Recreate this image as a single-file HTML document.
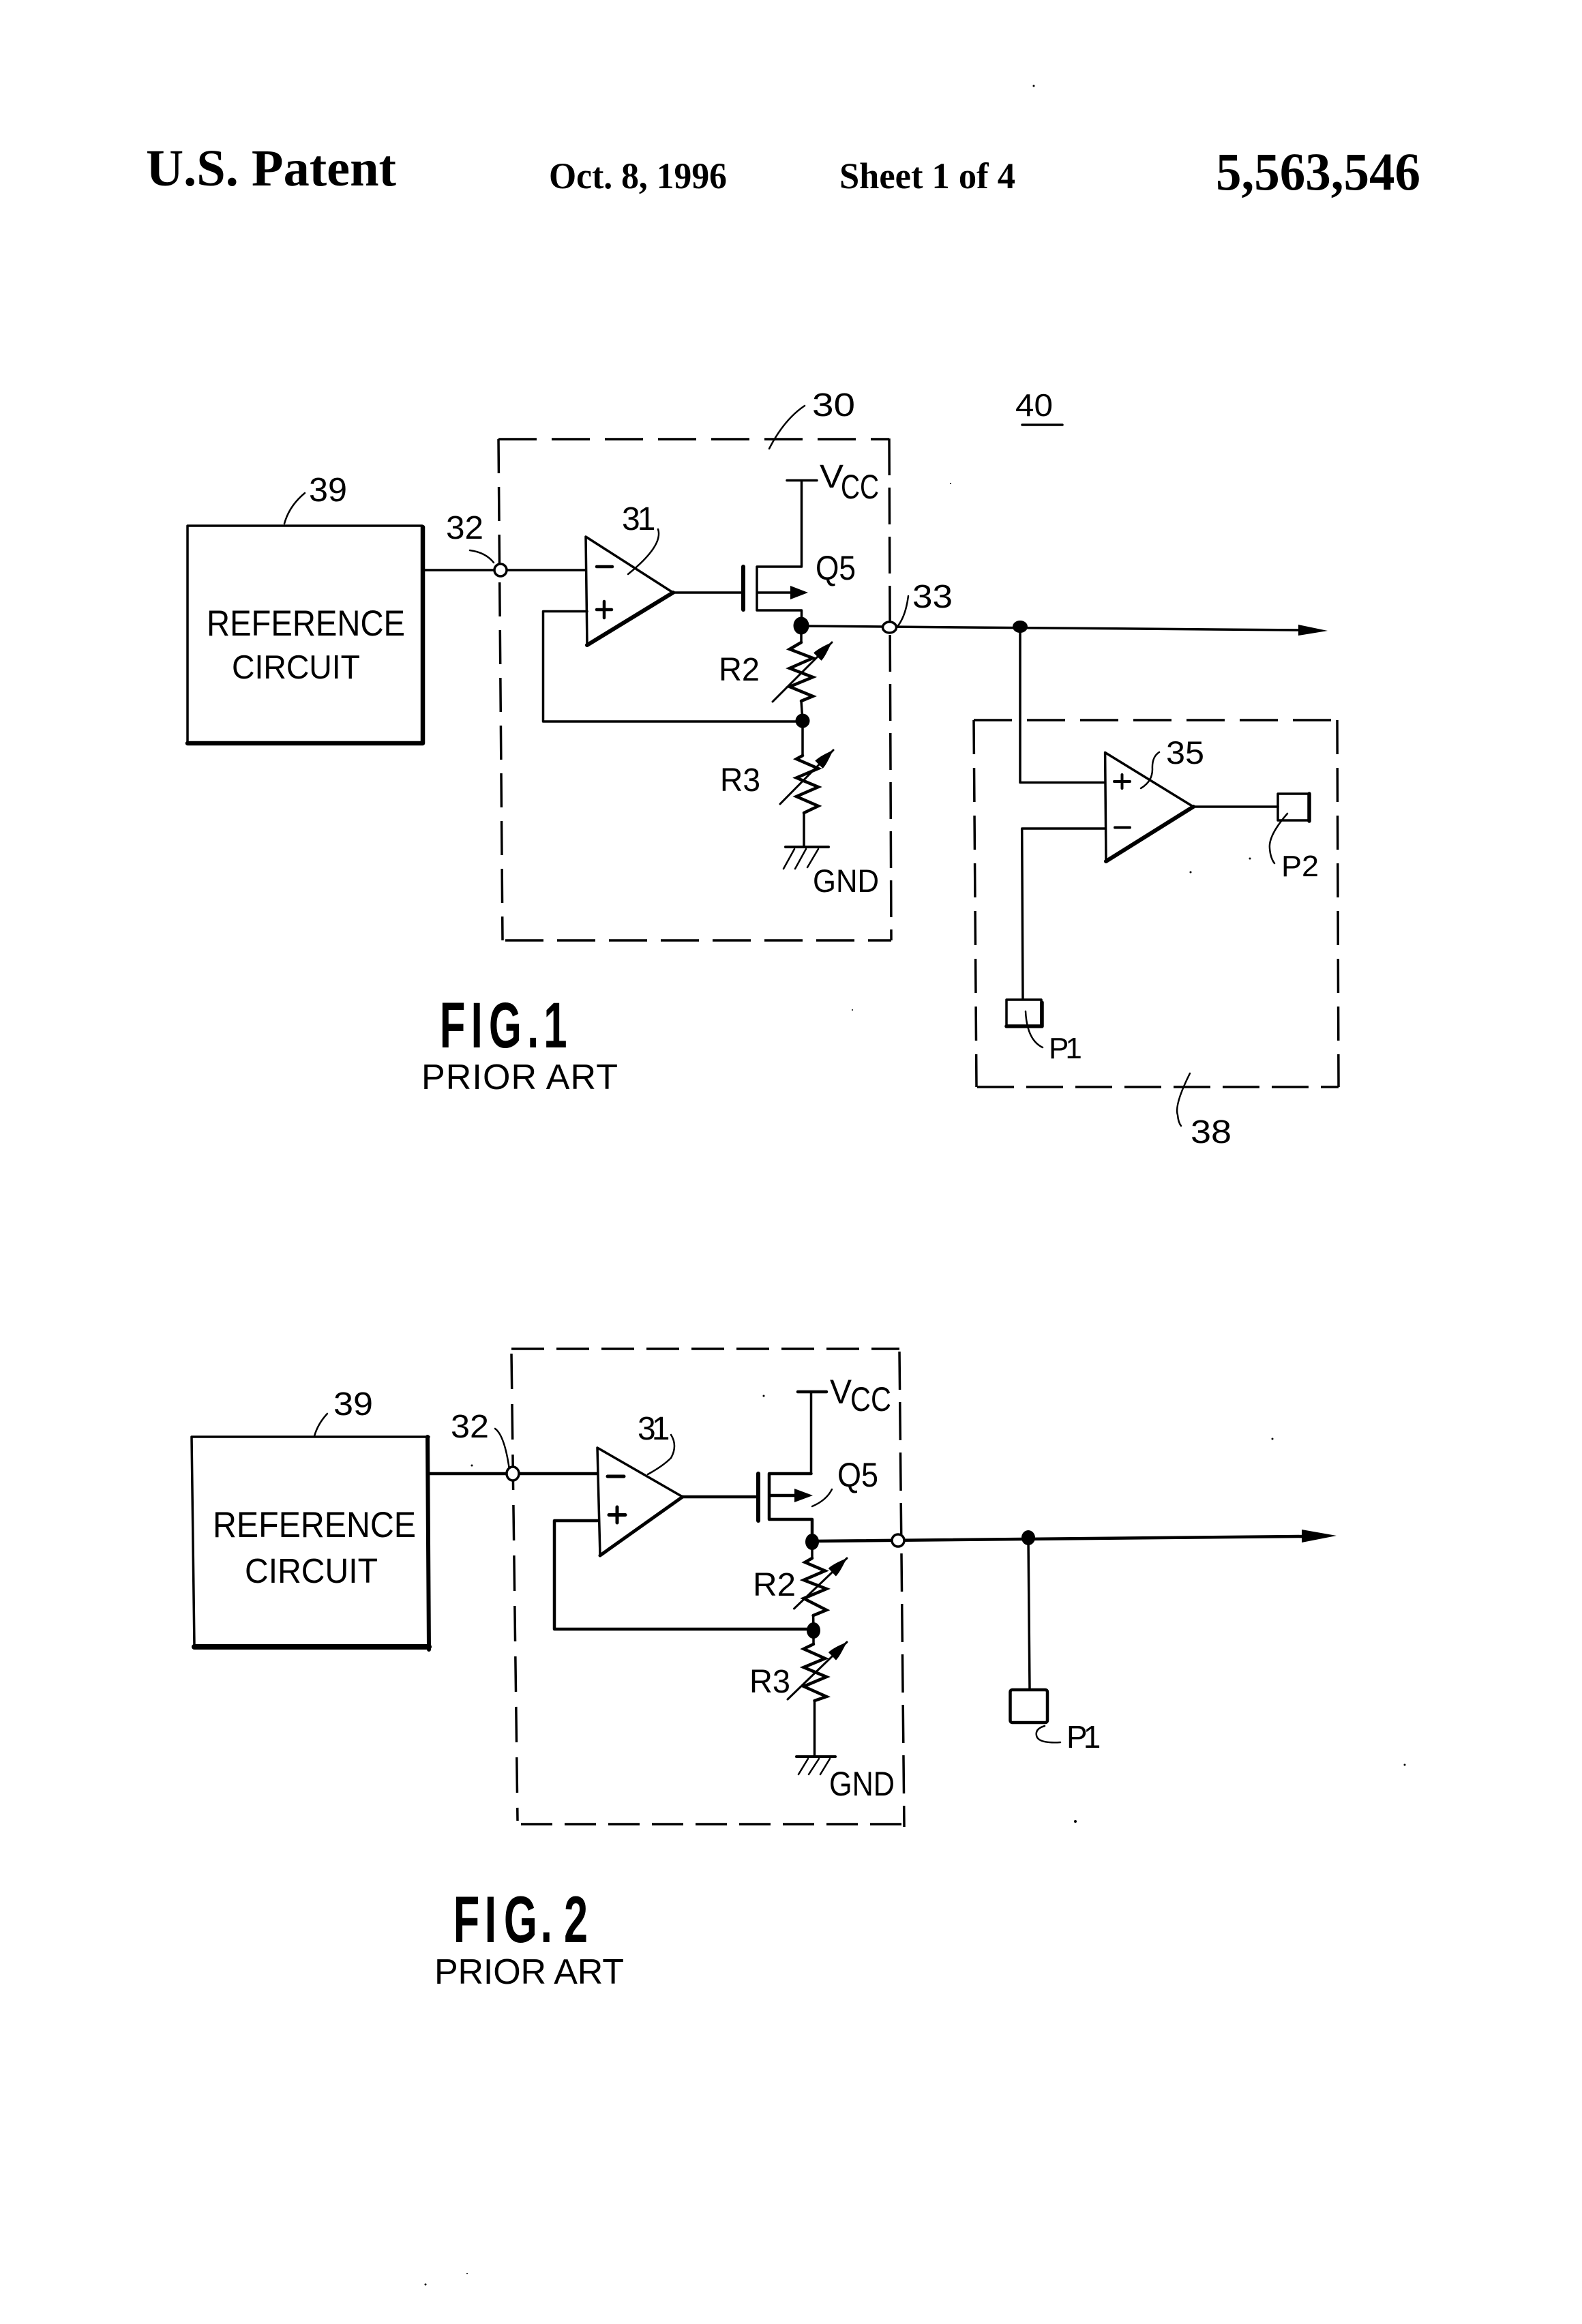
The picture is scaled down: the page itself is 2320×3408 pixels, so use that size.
<!DOCTYPE html>
<html><head><meta charset="utf-8"><title>U.S. Patent 5,563,546 Sheet 1 of 4</title>
<style>
html,body{margin:0;padding:0;background:#fff}
svg{display:block}
.l{fill:none;stroke:#000;stroke-width:3.5;stroke-linejoin:round;stroke-linecap:round}
.z{fill:none;stroke:#000;stroke-width:4.5;stroke-linejoin:miter;stroke-linecap:round}
.d{fill:none;stroke:#000;stroke-width:3.5}
.b{fill:#000;stroke:none}
text{font-family:"Liberation Sans",sans-serif;fill:#000}
.s{font-family:"Liberation Serif",serif;font-weight:bold}
.f{font-weight:bold}
</style></head><body>
<svg xmlns="http://www.w3.org/2000/svg" width="2320" height="3408" viewBox="0 0 2320 3408">
<defs>
<marker id="a" markerUnits="userSpaceOnUse" markerWidth="32" markerHeight="18" refX="30" refY="9" orient="auto"><path d="M0,1 C8,1 20,5 30,9 C20,12 8,17 0,17z" fill="#000"/></marker>
</defs>
<rect width="2320" height="3408" fill="#fff"/>

<!-- Header -->
<text class="s" x="214" y="272" font-size="76" textLength="367" lengthAdjust="spacingAndGlyphs">U.S. Patent</text>
<text class="s" x="805" y="276" font-size="54" textLength="261" lengthAdjust="spacingAndGlyphs">Oct. 8, 1996</text>
<text class="s" x="1231" y="276" font-size="54" textLength="258" lengthAdjust="spacingAndGlyphs">Sheet 1 of 4</text>
<text class="s" x="1783" y="278" font-size="78" textLength="300" lengthAdjust="spacingAndGlyphs">5,563,546</text>

<!-- FIG 1 dashed box 30 -->
<g class="d">
<path d="M731,644 H1304" stroke-dasharray="56 22"/>
<path d="M731,644 L737,1379" stroke-dasharray="50 20"/>
<path d="M1304,643 L1307,1379" stroke-dasharray="54 18"/>
<path d="M741,1379 H1307" stroke-dasharray="56 20"/>
</g>
<!-- Reference circuit 1 -->
<path class="l" d="M275,771 H619 M275,771 V1089"/>
<path class="l" style="stroke-width:6.5" d="M275,1090 H620 V773"/>
<text x="303" y="932" font-size="53" textLength="291" lengthAdjust="spacingAndGlyphs">REFERENCE</text>
<text x="340" y="995" font-size="49" textLength="188" lengthAdjust="spacingAndGlyphs">CIRCUIT</text>
<path class="l" style="stroke-width:2.5" d="M417,768 Q424,742 447,723"/>
<text x="453" y="735" font-size="49" textLength="56" lengthAdjust="spacingAndGlyphs">39</text>
<text x="654" y="790" font-size="48" textLength="55" lengthAdjust="spacingAndGlyphs">32</text>
<path class="l" style="stroke-width:2.5" d="M689,807 Q712,810 724,825"/>
<path class="l" d="M619,836 H859"/>
<circle cx="734" cy="836" r="9" fill="#fff" stroke="#000" stroke-width="3.5"/>
<!-- op amp 31 -->
<path class="l" d="M861,946 L859,787 L987,869"/>
<path class="l" style="stroke-width:6" d="M987,869 L861,946"/>
<path class="l" style="stroke-width:4.5" d="M875,831 H898 M875,894 H897 M886,882 V906"/>
<path class="l" d="M861,896.5 H796.5 V1058 H1177"/>
<text x="912" y="777" font-size="48">3<tspan dx="-4">1</tspan></text>
<path class="l" style="stroke-width:2.5" d="M965,776 Q973,800 921,842"/>
<!-- transistor -->
<path class="l" d="M987,869 H1089"/>
<path class="l" style="stroke-width:6" d="M1090,831 V894"/>
<path class="l" d="M1110,831 V895 M1110,831 H1175.5 V705 M1154,704.5 H1198 M1110,895 H1175.5 V918 M1110,869 H1165"/>
<polygon class="b" points="1159,859 1185,869 1159,879"/>
<text x="1202" y="715" font-size="48" textLength="35" lengthAdjust="spacingAndGlyphs">V</text>
<text x="1233" y="731" font-size="50" textLength="56" lengthAdjust="spacingAndGlyphs">CC</text>
<text x="1196" y="850" font-size="50" textLength="59" lengthAdjust="spacingAndGlyphs">Q5</text>
<text x="1191" y="610" font-size="48" textLength="63" lengthAdjust="spacingAndGlyphs">30</text>
<path class="l" style="stroke-width:2.5" d="M1128,658 Q1150,615 1180,595"/>
<text x="1489" y="610" font-size="46" textLength="55" lengthAdjust="spacingAndGlyphs">40</text>
<path class="l" d="M1499,623 H1558"/>
<!-- output -->
<path class="l" d="M1175,918 L1906,924"/>
<polygon class="b" points="1904,916 1947,925 1904,932"/>
<ellipse class="b" cx="1175" cy="917.5" rx="11.5" ry="13"/>
<ellipse class="b" cx="1496" cy="919" rx="11" ry="9"/>
<ellipse cx="1304.5" cy="920" rx="10" ry="8" fill="#fff" stroke="#000" stroke-width="3.5"/>
<text x="1338" y="891" font-size="48" textLength="59" lengthAdjust="spacingAndGlyphs">33</text>
<path class="l" style="stroke-width:2.5" d="M1315,920 Q1328,905 1332,874"/>
<!-- R2 R3 -->
<path class="l" d="M1175,917 V942 M1175,1028 L1177,1058"/>
<path class="z" d="M1175,942 L1158,952 L1192,965 L1158,980 L1192,993 L1158,1007 L1192,1021 L1175,1028"/>
<path class="l" style="stroke-width:3" marker-end="url(#a)" d="M1133,1029 L1220,942"/>
<circle class="b" cx="1177" cy="1057" r="10.5"/>
<text x="1054" y="998" font-size="48" textLength="60" lengthAdjust="spacingAndGlyphs">R2</text>
<path class="l" d="M1177,1058 V1108 M1179,1192 V1242"/>
<path class="z" d="M1177,1108 L1168,1113 L1200,1127 L1168,1140.6 L1200,1154 L1168,1168 L1200,1182 L1179,1192"/>
<path class="l" style="stroke-width:3" marker-end="url(#a)" d="M1144,1179 L1222,1100"/>
<text x="1056" y="1160" font-size="48" textLength="59" lengthAdjust="spacingAndGlyphs">R3</text>
<path class="l" style="stroke-width:4" d="M1152,1242 H1215"/>
<path class="l" style="stroke-width:2.5" d="M1149,1274 L1165,1245 M1166,1274 L1182,1245 M1184,1272 L1200,1245"/>
<text x="1192" y="1308" font-size="47" textLength="97" lengthAdjust="spacingAndGlyphs">GND</text>
<!-- FIG 1 label -->
<g transform="translate(649,1536) scale(.65,1)"><text class="f" x="-6.6 64 104.5 191 228" y="0" font-size="95">FIG.1</text></g>
<text x="618" y="1597" font-size="52" textLength="288" lengthAdjust="spacing">PRIOR ART</text>

<!-- box 38 -->
<g class="d">
<path d="M1428,1056 H1961" stroke-dasharray="56 22"/>
<path d="M1428,1056 L1432,1594" stroke-dasharray="50 20"/>
<path d="M1961,1056 L1963,1594" stroke-dasharray="50 20"/>
<path d="M1433,1594 H1963" stroke-dasharray="54 18"/>
</g>
<path class="l" d="M1496,919 V1147.5 H1620"/>
<path class="l" d="M1622,1263 L1620.6,1103.5 L1750,1183"/>
<path class="l" style="stroke-width:6" d="M1750,1183 L1622,1263"/>
<path class="l" style="stroke-width:4" d="M1634,1146 H1657 M1645.5,1136 V1156 M1635,1213.5 H1657"/>
<path class="l" d="M1620,1215 H1498.7 L1500,1464"/>
<path class="l" d="M1750,1183 H1874"/>
<path class="l" d="M1874,1164 H1920 M1874,1164 V1203 H1920"/>
<path class="l" style="stroke-width:5.5" d="M1920,1164 V1204"/>
<path class="l" style="stroke-width:2.5" d="M1888,1193 Q1860,1225 1862,1244 Q1863,1258 1869,1266"/>
<text x="1879" y="1285" font-size="44" textLength="55" lengthAdjust="spacingAndGlyphs">P2</text>
<path class="l" d="M1476,1466 H1527 V1505 M1476,1466 V1504"/>
<path class="l" style="stroke-width:5.5" d="M1476,1505 H1528 V1470"/>
<path class="l" style="stroke-width:2.5" d="M1504,1483 Q1506,1525 1529,1536"/>
<text x="1538" y="1552" font-size="44">P<tspan dx="-5">1</tspan></text>
<text x="1710" y="1120" font-size="47" textLength="56" lengthAdjust="spacingAndGlyphs">35</text>
<path class="l" style="stroke-width:2.5" d="M1673,1156 Q1690,1146 1690,1128 Q1689,1110 1700,1103"/>
<path class="l" style="stroke-width:2.5" d="M1745,1574 Q1722,1620 1727,1635 Q1728,1646 1732,1651"/>
<text x="1746" y="1676" font-size="48" textLength="60" lengthAdjust="spacingAndGlyphs">38</text>

<!-- FIG 2 dashed box -->
<g class="d">
<path d="M750,1978 H1319" stroke-dasharray="48 18"/>
<path d="M750,1985 L759,2670" stroke-dasharray="52 22"/>
<path d="M1319,1982 L1326,2679" stroke-dasharray="56 18"/>
<path d="M764,2675 H1326" stroke-dasharray="46 18"/>
</g>
<!-- Reference circuit 2 -->
<path class="l" d="M281,2107 H629 M281,2107 L285,2414"/>
<path class="l" style="stroke-width:6" d="M627,2107 L629,2419"/>
<path class="l" style="stroke-width:8" d="M285,2415 H629"/>
<text x="312" y="2254" font-size="53" textLength="298" lengthAdjust="spacingAndGlyphs">REFERENCE</text>
<text x="359" y="2321" font-size="51" textLength="195" lengthAdjust="spacingAndGlyphs">CIRCUIT</text>
<path class="l" style="stroke-width:2.5" d="M461,2106 Q466,2088 480,2073"/>
<text x="489" y="2075" font-size="48" textLength="58" lengthAdjust="spacingAndGlyphs">39</text>
<text x="661" y="2108" font-size="48" textLength="56" lengthAdjust="spacingAndGlyphs">32</text>
<path class="l" style="stroke-width:2.5" d="M726,2095 Q740,2105 747,2155"/>
<path class="l" style="stroke-width:4.5" d="M629,2161 H875"/>
<ellipse cx="752" cy="2161" rx="9" ry="10" fill="#fff" stroke="#000" stroke-width="3.5"/>
<!-- op amp -->
<path class="l" d="M880,2281 L876,2123 L1001,2195"/>
<path class="l" style="stroke-width:5" d="M1001,2195 L880,2281"/>
<path class="l" style="stroke-width:5" d="M891,2165 H915 M893,2221.5 H917 M905,2210 V2233"/>
<path class="l" style="stroke-width:4.5" d="M877,2230 H813 V2389 H1193"/>
<text x="935" y="2111" font-size="48">3<tspan dx="-6">1</tspan></text>
<path class="l" style="stroke-width:2.5" d="M984,2104 Q994,2120 984,2138 Q972,2150 950,2162"/>
<path class="l" style="stroke-width:4.5" d="M1001,2195 H1110"/>
<path class="l" style="stroke-width:6" d="M1112,2161 V2230"/>
<path class="l" style="stroke-width:4.5" d="M1128,2161 V2228 M1128,2161 H1189.5 M1128,2193 H1170 M1128,2228 H1191 V2261"/>
<path class="l" d="M1189.5,2161 V2041"/>
<path class="l" style="stroke-width:4.5" d="M1170,2041 H1212"/>
<polygon class="b" points="1165,2183 1192,2193 1165,2203"/>
<text x="1217" y="2058" font-size="50" textLength="32" lengthAdjust="spacingAndGlyphs">V</text>
<text x="1247" y="2069" font-size="50" textLength="60" lengthAdjust="spacingAndGlyphs">CC</text>
<text x="1228" y="2180" font-size="50" textLength="60" lengthAdjust="spacingAndGlyphs">Q5</text>
<path class="l" style="stroke-width:2.5" d="M1191,2209 Q1212,2200 1220,2184"/>
<!-- output -->
<path class="l" style="stroke-width:4.5" d="M1191,2260 L1912,2253"/>
<polygon class="b" points="1909,2243 1960,2252 1909,2262"/>
<ellipse class="b" cx="1191" cy="2261" rx="10" ry="12"/>
<ellipse class="b" cx="1508" cy="2255" rx="10" ry="11"/>
<circle cx="1317" cy="2259" r="9" fill="#fff" stroke="#000" stroke-width="3.5"/>
<path class="l" d="M1508,2255 L1510,2477"/>
<rect x="1481.5" y="2478" width="54.5" height="48" rx="3" fill="none" stroke="#000" stroke-width="4.5"/>
<path class="l" style="stroke-width:2.5" d="M1532,2531 Q1518,2535 1520,2545 Q1522,2557 1555,2555"/>
<text x="1564" y="2563" font-size="46">P<tspan dx="-6">1</tspan></text>
<!-- R2 R3 fig2 -->
<path class="l" d="M1191,2261 V2285 M1192.6,2369 L1193,2391"/>
<path class="z" d="M1191,2285 L1180.5,2291 L1210,2303.5 L1178.6,2317 L1212,2330 L1178.6,2344 L1212,2361 L1192.6,2369"/>
<path class="l" style="stroke-width:3" marker-end="url(#a)" d="M1164.5,2359 L1242,2285"/>
<ellipse class="b" cx="1193" cy="2391" rx="10" ry="12"/>
<text x="1104" y="2340" font-size="48" textLength="63" lengthAdjust="spacingAndGlyphs">R2</text>
<path class="l" d="M1193,2391 V2411 M1194.5,2494 V2575"/>
<path class="z" d="M1193,2411 L1178.6,2418 L1210,2432 L1178.6,2445 L1212,2459 L1178.6,2473 L1212,2488 L1194.5,2494"/>
<path class="l" style="stroke-width:3" marker-end="url(#a)" d="M1155,2492 L1242,2408"/>
<text x="1099" y="2482" font-size="48" textLength="60" lengthAdjust="spacingAndGlyphs">R3</text>
<path class="l" style="stroke-width:4" d="M1168,2576 H1225"/>
<path class="l" style="stroke-width:2.5" d="M1171,2602 L1185,2579 M1186,2602 L1201,2579 M1203,2602 L1217,2579"/>
<text x="1216" y="2633" font-size="50" textLength="96" lengthAdjust="spacingAndGlyphs">GND</text>
<!-- FIG 2 label -->
<g transform="translate(669,2848) scale(.65,1)"><text class="f" x="-6.6 64 107.6 190 243" y="0" font-size="97">FIG.2</text></g>
<text x="637" y="2909" font-size="52" textLength="278" lengthAdjust="spacing">PRIOR ART</text>

<!-- specks -->
<g class="b">
<circle cx="1516" cy="126" r="1.5"/><circle cx="1120" cy="2047" r="1.5"/><circle cx="692" cy="2149" r="1.5"/>
<circle cx="1866" cy="2110" r="1.5"/><circle cx="2060" cy="2588" r="1.5"/><circle cx="1577" cy="2671" r="2"/>
<circle cx="624" cy="3350" r="1.5"/><circle cx="685" cy="3334" r="1"/><circle cx="1746" cy="1279" r="1.5"/><circle cx="1833" cy="1259" r="1.5"/>
<circle cx="1394" cy="709" r="1"/><circle cx="1250" cy="1481" r="1"/>
</g>
</svg>
</body></html>
